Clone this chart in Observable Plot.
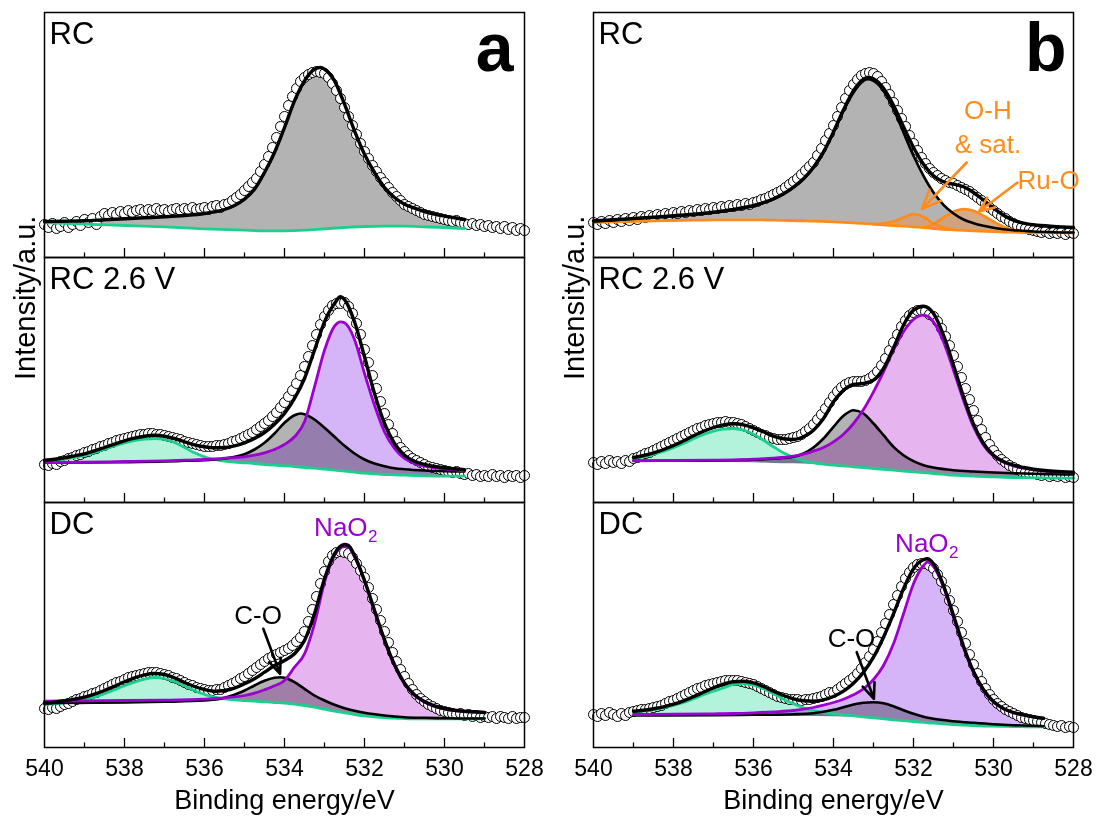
<!DOCTYPE html>
<html><head><meta charset="utf-8">
<script src="https://cdn.jsdelivr.net/npm/d3@7"></script>
<script src="https://cdn.jsdelivr.net/npm/@observablehq/plot@0.6"></script>
<style>
html,body{margin:0;padding:0;background:#fff;}
#wrap{display:flex;width:1098px;height:818px;}
#wrap svg{display:block;}
</style></head><body><div id="wrap"></div>
<script>
// ---------- categories / ticks ----------
const rows = ["RC", "RC 2.6 V", "DC"];
const xTicks = [540, 538, 536, 534, 532, 530, 528];
const majorTicks = [538, 536, 534, 532, 530];
const minorTicks = [539, 537, 535, 533, 531, 529];

// ---------- measured scan energies (eV) for the open circles ----------
const scanEV = [
540.0,539.9,539.8,539.7,539.6,539.5,539.4,539.3,539.2,539.1,
539.0,538.9,538.8,538.7,538.6,538.5,538.4,538.3,538.2,538.1,
538.0,537.9,537.8,537.7,537.6,537.5,537.4,537.3,537.2,537.1,
537.0,536.9,536.8,536.7,536.6,536.5,536.4,536.3,536.2,536.1,
536.0,535.9,535.8,535.7,535.6,535.5,535.4,535.3,535.2,535.1,
535.0,534.9,534.8,534.7,534.6,534.5,534.4,534.3,534.2,534.1,
534.0,533.9,533.8,533.7,533.6,533.5,533.4,533.3,533.2,533.1,
533.0,532.9,532.8,532.7,532.6,532.5,532.4,532.3,532.2,532.1,
532.0,531.9,531.8,531.7,531.6,531.5,531.4,531.3,531.2,531.1,
531.0,530.9,530.8,530.7,530.6,530.5,530.4,530.3,530.2,530.1,
530.0,529.9,529.8,529.7,529.6,529.5,529.4,529.3,529.2,529.1,
529.0,528.9,528.8,528.7,528.6,528.5,528.4,528.3,528.2,528.1,
528.0];

// ---------- panel a : measured intensities (a.u.) ----------
const aRC_dots = [33,30,34,29,31,35,30,33,36,32, 38,35,39,33,41,44,42,45,43,46, 44,47,45,47,48,46,48,47,49,47, 48,46,48,49,47,49,48,50,48,49, 50,48,51,52,50,53,54,57,60,63, 67,71,75,79,86,93,101,110,120,131, 141,152,161,169,176,180,183,185,186,185, 184,180,174,167,159,150,141,132,123,114, 106,99,92,86,80,75,70,65,61,57, 53,51,49,47,45,43,42,41,40,39, 38,37,36,37,35,34,33,34,32,33, 31,32,30,31,29,31,28,30,27,29, 27];
const aMid_dots = [38,37,39,38,41,42,44,45,47,48, 50,51,53,54,56,57,59,60,62,63, 64,65,66,67,68,68,69,69,68,68, 67,66,65,64,63,61,60,59,58,57, 56,56,56,57,57,58,59,61,62,64, 66,68,70,73,76,79,82,86,90,95, 100,106,112,119,127,136,146,157,168,178, 186,192,197,199,199,200,196,189,179,168, 153,140,127,114,101,89,78,69,61,55, 51,47,44,42,40,38,36,35,34,33, 32,31,30,31,29,28,29,27,28,26, 27,26,28,26,27,25,27,26,27,25, 27];
const aDC_dots = [39,38,40,39,41,43,44,46,48,49, 51,52,54,55,57,59,61,63,65,66, 68,70,71,72,73,74,75,75,75,74, 73,72,70,69,67,65,63,62,60,59, 58,57,57,58,58,60,62,64,66,69, 71,74,77,80,83,86,89,91,93,95, 97,99,102,106,110,116,126,138,151,164, 176,186,192,195,196,195,194,190,184,177, 170,160,149,138,127,116,105,95,86,78, 71,64,58,53,49,46,43,41,39,37, 36,35,34,33,34,32,33,31,32,30, 31,30,31,29,31,30,29,31,29,30, 30];

// panel a fitted curves: [binding energy eV, intensity a.u.]
const aRC_bg = [[540,35],[539,33.3],[538,32],[537,30.7],[536,28.7],[535,27.3],[534.5,26.7],[534,26.7],[533.5,27.3],[533,28.7],[532.5,30],[532,31],[531.5,31.3],[531,31.3],[530.5,30.7],[530,30],[529.5,29]];
const aRC_fit = [[540,36],[539.5,36.3],[539,36.7],[538.5,37.7],[538,38.7],[537.5,39.7],[537,40.7],[536.5,42],[536,44],[535.75,45.7],[535.5,48],[535.25,52],[535,58.3],[534.75,68.3],[534.5,85],[534.25,105],[534,130],[533.75,156.7],[533.5,176.7],[533.25,188.3],[533.1,190],[533,188.3],[532.75,176.7],[532.5,153.3],[532.25,126.7],[532,103.3],[531.75,85],[531.5,70],[531.25,60],[531,53.3],[530.75,49.3],[530.5,46],[530.25,43.3],[530,41.3],[529.75,39.7],[529.5,38]];

const aMid_bg = [[540,40],[539,40.4],[538,40.8],[537,41.2],[536.5,41.4],[536,41.4],[535.5,41.1],[535.25,40.3],[535,39.7],[534.5,38],[534,36.7],[533.5,35],[533,33.3],[532.5,31.3],[532,29.3],[531.5,28],[531,27.3],[530.5,26.7],[530,26.3],[529.5,26.3]];
const aMid_green = [[540,41.3],[539.75,42.3],[539.5,43.3],[539.25,45],[539,47],[538.75,50],[538.5,53.3],[538.25,56.7],[538,59.7],[537.75,62],[537.5,63.3],[537.25,64],[537,63],[536.75,60],[536.5,55],[536.25,49.7],[536,45.7],[535.75,43],[535.5,41.3],[535.25,40.3],[535,39.7],[534.75,39],[534.5,38],[534.25,37.3],[534,36.7],[533.75,36],[533.5,35],[533.25,34.3],[533,33.3],[532.75,32.3],[532.5,31.3],[532.25,30.3],[532,29.3],[531.75,28.7],[531.5,28],[531.25,27.7],[531,27.3],[530.75,27],[530.5,26.7],[530,26.3],[529.5,26.3]];
const aMid_gray = [[540,40],[539,40],[538,40.3],[537,41],[536.5,41.7],[536,42.3],[535.5,44],[535,48.3],[534.75,53],[534.5,59.7],[534.25,69],[534,79.7],[533.75,87.3],[533.6,89],[533.5,88.3],[533.25,83],[533,74.7],[532.75,65.7],[532.5,56.7],[532.25,49],[532,43],[531.75,39],[531.5,36.3],[531.25,34.3],[531,33.3],[530.5,32],[530,31.3],[529.5,31]];
const aMid_purple = [[540,40],[539,40.3],[538,41],[537,41.7],[536.5,42.3],[536,43],[535.5,44.3],[535,45.7],[534.75,47.3],[534.5,49.7],[534.25,53],[534,58],[533.75,65.7],[533.5,80.7],[533.25,115.7],[533,152.3],[532.75,176.3],[532.6,180.7],[532.5,179.7],[532.25,163],[532,129],[531.75,97.3],[531.5,70.7],[531.25,54],[531,44],[530.75,39],[530.5,36.3],[530.25,34.7],[530,33.7],[529.75,32.7],[529.5,31.7]];
const aMid_fit = [[540,42.3],[539.75,43.3],[539.5,44.7],[539.25,46.7],[539,48.7],[538.75,51.7],[538.5,55],[538.25,58.3],[538,61.7],[537.75,64.3],[537.5,66.3],[537.25,67.3],[537,66.3],[536.75,64],[536.5,60.7],[536.25,57.7],[536,55.7],[535.75,54.7],[535.5,55],[535.25,56.7],[535,59.7],[534.75,64],[534.5,70],[534.25,78.3],[534,89],[533.75,104],[533.5,124],[533.25,152.3],[533,180.7],[532.75,199],[532.6,205.7],[532.5,203],[532.25,180.7],[532,145.7],[531.75,109],[531.5,79],[531.25,59],[531,47.3],[530.75,41.3],[530.5,38],[530.25,36],[530,34.7],[529.75,33.7],[529.5,32.7]];

const aDC_bg = [[540,42],[539,42.8],[538,43.7],[537,44.7],[536,46],[535.5,47],[535.25,47.7],[535,47],[534.75,46.3],[534.5,45.7],[534.25,45],[534,44.3],[533.75,43.3],[533.5,42],[533.25,40.3],[533,38.3],[532.75,36.3],[532.5,34.7],[532.25,33],[532,31.7],[531.75,30.7],[531.5,30],[531.25,29.3],[531,29],[530.5,28.7],[530,28.7],[529.5,28.7],[529,29]];
const aDC_green = [[540,43],[539.75,43.7],[539.5,44.7],[539.25,46],[539,48],[538.75,50.3],[538.5,53.7],[538.25,57.7],[538,61.7],[537.75,65.3],[537.5,68.3],[537.25,70],[537,69],[536.75,66],[536.5,61.7],[536.25,57],[536,53],[535.75,50.3],[535.5,48.7],[535.25,47.7],[535,47],[534.75,46.3],[534.5,45.7],[534.25,45],[534,44.3],[533.75,43.3],[533.5,42],[533.25,40.3],[533,38.3],[532.75,36.3],[532.5,34.7],[532.25,33],[532,31.7],[531.75,30.7],[531.5,30],[531.25,29.3],[531,29],[530.5,28.7],[530,28.7],[529.5,28.7],[529,29]];
const aDC_gray = [[540,44.3],[539,44.7],[538,45],[537,45.7],[536,47],[535.5,49.7],[535.25,52.7],[535,57],[534.75,62],[534.5,66.7],[534.25,69.7],[534.1,70.3],[534,69.7],[533.75,65.3],[533.5,58.7],[533.25,52],[533,47],[532.75,42.7],[532.5,39.3],[532.25,36.7],[532,34.7],[531.5,32],[531,30.3],[530.5,29.7],[530,29.3],[529.5,29],[529,29]];
const aDC_purple = [[540,46.3],[539,46.7],[538,47],[537,47.3],[536,48.3],[535.5,49.7],[535,52],[534.75,54.3],[534.5,57.7],[534.25,61.7],[534,67],[533.75,80.3],[533.5,93.7],[533.25,123.7],[533,165.3],[532.75,192],[532.5,201.3],[532.4,200.3],[532.25,190.3],[532,167],[531.75,137],[531.5,107],[531.25,82],[531,63.7],[530.75,52],[530.5,45.3],[530.25,41],[530,38.3],[529.75,37],[529.5,36],[529.25,35.3],[529,34.7]];
const aDC_fit = [[540,44.3],[539.75,45.3],[539.5,46.7],[539.25,48.3],[539,50.3],[538.75,53.3],[538.5,57],[538.25,61.3],[538,65.7],[537.75,69.7],[537.5,72.7],[537.25,74],[537,73],[536.75,69.7],[536.5,65],[536.25,61],[536,58],[535.75,56.3],[535.5,57],[535.25,59.3],[535,63.7],[534.75,68.7],[534.5,75.3],[534.25,82],[534,87],[533.75,93.7],[533.5,107],[533.25,133.7],[533,168.7],[532.75,193.7],[532.5,203],[532.4,202],[532.25,192],[532,167],[531.75,137],[531.5,107.7],[531.25,82.7],[531,64.3],[530.75,52.7],[530.5,46],[530.25,41.7],[530,39],[529.75,37.3],[529.5,36.3],[529.25,35.7],[529,35]];

// ---------- panel b ----------
const bRC_dots = [35,33,36,34,37,35,38,36,39,37, 40,38,41,40,42,41,43,42,44,43, 45,44,46,45,47,46,48,47,49,48, 50,49,51,50,52,51,53,52,54,53, 55,56,58,59,61,63,65,67,70,73, 76,79,83,87,91,95,102,109,117,124, 132,141,150,159,167,173,178,182,184,185, 184,181,176,170,163,155,147,139,131,122, 114,107,100,94,89,85,82,79,77,75, 74,72,70,68,66,63,60,57,54,50, 47,44,41,39,36,34,32,30,29,28, 27,26,25,26,24,25,24,25,23,25, 24];
const bMid_dots = [40,38,41,39,42,40,41,39,42,41, 44,45,47,49,50,52,54,56,58,60, 62,64,66,68,70,72,74,75,77,78, 79,80,80,81,80,80,79,78,76,74, 72,70,68,67,65,64,63,63,63,64, 65,66,68,71,74,78,83,88,94,100, 106,111,115,118,120,121,121,121,122,124, 127,131,137,144,152,160,168,176,182,187, 190,192,192,191,188,186,181,174,166,157, 147,136,125,114,103,92,82,73,65,58, 52,47,43,40,37,35,33,31,30,29, 29,28,27,28,26,27,26,27,25,26, 25];
const bDC_dots = [33,31,34,32,35,33,31,34,32,35, 36,37,38,38,39,40,41,42,44,46, 47,49,51,53,55,57,59,60,62,63, 64,65,66,67,67,67,67,66,65,64, 63,61,59,57,55,53,51,50,49,48, 48,48,47,48,48,49,50,51,53,55, 55,58,61,64,67,70,74,79,85,91, 98,106,115,124,133,143,152,161,169,175, 180,183,184,184,182,179,173,166,157,147, 137,126,115,104,93,83,74,66,59,53, 48,44,41,38,36,34,32,30,29,28, 27,26,25,24,23,22,21,22,20,21, 20];

const bRC_bg = [[540,35],[539.5,35.7],[539,36],[538.5,36.7],[538,37],[537.5,37.3],[537,37.7],[536.5,37.7],[536,37.7],[535.5,37.3],[535,37],[534.5,36.3],[534,35.7],[533.5,34.7],[533,33.3],[532.5,32],[532,30.7],[531.5,29],[531,27.7],[530.5,26.7],[530,26],[529.5,25.3],[529,25],[528.5,25],[528,24.7]];
const bRC_OH = [[533,33.3],[532.75,34],[532.5,36],[532.25,40],[532,43.3],[531.75,40.7],[531.5,34],[531.25,30],[531,28]];
const bRC_RuO = [[531.75,29.8],[531.5,33.3],[531.25,40],[531,45.7],[530.75,48.3],[530.5,46.7],[530.25,41.7],[530,35.7],[529.75,30.7],[529.5,27.3],[529.25,25.7],[529,25]];
const bRC_gray = [[540,36],[539.5,37.3],[539,38.7],[538.5,40],[538,41.3],[537.5,43],[537,45],[536.5,47.7],[536,51.7],[535.75,54.7],[535.5,58.3],[535.25,63.3],[535,70],[534.75,78.3],[534.5,90],[534.25,105],[534,125],[533.75,146.7],[533.5,165],[533.25,176.7],[533.15,178.3],[533,176.7],[532.75,166.7],[532.5,148.3],[532.25,125],[532,101.7],[531.75,81.7],[531.5,65],[531.25,52.7],[531,44],[530.75,38],[530.5,34.3],[530.25,31.7],[530,29.7],[529.75,28.3],[529.5,27.3],[529.25,26.7],[529,26],[528.5,25.3],[528,25]];
const bRC_fit = [[540,36.7],[539.5,37.7],[539,39],[538.5,40.3],[538,41.7],[537.5,43.3],[537,45.3],[536.5,48],[536,52],[535.75,55],[535.5,58.7],[535.25,63.7],[535,70.3],[534.75,78.7],[534.5,90.3],[534.25,105.7],[534,125.7],[533.75,147.7],[533.5,166.7],[533.25,178.3],[533.15,180],[533,178.7],[532.75,169.3],[532.5,152.3],[532.25,130.7],[532,110],[531.75,93.3],[531.5,81.7],[531.25,75.7],[531,73.3],[530.75,70.7],[530.5,65],[530.25,57.3],[530,49.3],[529.75,42.3],[529.5,37.3],[529.25,34.3],[529,32.7],[528.5,31],[528,30]];

const bMid_bg = [[539,41.3],[538,41],[537,40.3],[536,39.7],[535.5,39],[535,38.7],[534.5,38],[534,37.3],[533.5,35.7],[533,34],[532.5,32.3],[532,30.7],[531.5,29],[531,27.3],[530.5,26.3],[530,25.7],[529.5,25],[529,24.7],[528.5,24.3],[528,24.3]];
const bMid_green = [[539,44],[538.75,45.7],[538.5,48],[538.25,51],[538,54.7],[537.75,59],[537.5,63.7],[537.25,68],[537,71.3],[536.75,73.3],[536.5,74],[536.25,72.3],[536,68.3],[535.75,62.3],[535.5,55.7],[535.25,49.7],[535,45],[534.75,41.7],[534.5,39.7],[534.25,38.3],[534,37.3],[533.5,35.7],[533,34],[532.5,32.3],[532,30.7],[531.5,29],[531,27.3],[530.5,26.3],[530,25.7],[529.5,25],[529,24.7],[528.5,24.3],[528,24.3]];
const bMid_gray = [[539,41.7],[538,41.7],[537,42],[536,42.7],[535.5,43.7],[535,45.7],[534.75,49],[534.5,55],[534.25,64],[534,75.7],[533.75,86.7],[533.5,92.3],[533.25,89],[533,79],[532.75,67.3],[532.5,55.7],[532.25,47.3],[532,41.3],[531.75,37.3],[531.5,35],[531,32.3],[530.5,31],[530,30],[529.5,29.3],[529,28.7],[528.5,28.3],[528,28]];
const bMid_purple = [[539,41.7],[538,42],[537,42.3],[536.5,42.7],[536,43.3],[535.5,44.3],[535,46.3],[534.75,48.3],[534.5,51.3],[534.25,55],[534,60.7],[533.75,68.3],[533.5,79],[533.25,93],[533,110.7],[532.75,130.7],[532.5,152.3],[532.25,170.7],[532,183],[531.75,187.3],[531.5,180.7],[531.25,160.7],[531,132.3],[530.75,102.3],[530.5,75.7],[530.25,57.3],[530,46.3],[529.75,40.3],[529.5,36.7],[529.25,34.3],[529,32.7],[528.5,30.7],[528,29.7]];
const bMid_fit = [[539,45],[538.75,47],[538.5,49.7],[538.25,53],[538,57],[537.75,61.7],[537.5,66.7],[537.25,71.3],[537,75],[536.75,77.7],[536.5,78.7],[536.25,77.7],[536,74.7],[535.75,70.7],[535.5,66.3],[535.25,63.7],[535,63],[534.75,65.7],[534.5,72.3],[534.25,84],[534,100.7],[533.75,112.3],[533.5,118],[533.25,119],[533,122.3],[532.75,134],[532.5,154.7],[532.25,177.3],[532,192.3],[531.75,196.3],[531.5,189],[531.25,167.3],[531,137.3],[530.75,105.7],[530.5,78.3],[530.25,59],[530,47.3],[529.75,41],[529.5,37.3],[529.25,35],[529,33.3],[528.5,31.3],[528,30.3]];

const bDC_bg = [[539,32.3],[538,32],[537,31.7],[536,31.3],[535,31],[534,30.7],[533.5,30.3],[533,29.7],[532.5,27.7],[532,26],[531.5,24.3],[531,23],[530.5,22],[530,21.3],[529.5,21],[529,20.7],[528.75,20.7]];
const bDC_green = [[539,35.3],[538.75,36.3],[538.5,37.7],[538.25,39.7],[538,42],[537.75,45],[537.5,48.7],[537.25,52.7],[537,56.3],[536.75,59.7],[536.5,63],[536.25,64],[536,62.3],[535.75,58.7],[535.5,53.7],[535.25,48.3],[535,43.7],[534.75,39.7],[534.5,37],[534.25,35],[534,33.7],[533.5,31.7],[533,29.7],[532.5,27.7],[532,26],[531.5,24.3],[531,23],[530.5,22],[530,21.3],[529.5,21],[529,20.7],[528.75,20.7]];
const bDC_gray = [[539,32],[537,32.3],[536,32.7],[535,33.3],[534.5,34.3],[534.25,35.7],[534,37.7],[533.75,40.3],[533.5,43],[533.25,44.7],[533,45.3],[532.75,44.3],[532.5,41.3],[532.25,37.3],[532,33.7],[531.75,30.7],[531.5,28.7],[531,26.3],[530.5,24.7],[530,23.3],[529.5,22.3],[529,21.7],[528.75,21.3]];
const bDC_purple = [[539,33],[538,33.3],[537,33.7],[536.5,34],[536,34.7],[535.5,35.7],[535,37],[534.75,38.3],[534.5,40],[534.25,42.3],[534,45],[533.75,48.3],[533.5,52.7],[533.25,58.7],[533,68],[532.75,82],[532.5,103.7],[532.25,133.7],[532,163.7],[531.75,182],[531.65,185.3],[531.5,181],[531.25,160.3],[531,130.3],[530.75,100.3],[530.5,75.3],[530.25,57],[530,45.3],[529.75,38.7],[529.5,34.7],[529.25,32.3],[529,30.3],[528.75,29]];
const bDC_fit = [[539,36.3],[538.75,37.3],[538.5,38.7],[538.25,40.7],[538,43.3],[537.75,46.7],[537.5,50.7],[537.25,55.3],[537,59.7],[536.75,63.3],[536.5,65.7],[536.25,66.3],[536,64.7],[535.75,61],[535.5,56.3],[535.25,52],[535,48.7],[534.75,46.7],[534.5,46.3],[534.25,47.7],[534,51],[533.75,56.3],[533.5,64.3],[533.25,75.3],[533,90.3],[532.75,110.3],[532.5,133.7],[532.25,158.7],[532,178.7],[531.75,187.7],[531.65,188.7],[531.5,183.7],[531.25,162],[531,132],[530.75,101.3],[530.5,76],[530.25,57.7],[530,46],[529.75,39],[529.5,35],[529.25,32.7],[529,30.7],[528.75,29.3]];

// ---------- annotations (data coordinates) ----------
const aNotes = [{row: "DC", ev: 534.66, h: 123.7, text: "C-O"}];
const aSub = [{row: "DC", ev: 533.26, h: 212, text: "NaO", sub: "2"}];
const aArrows = [{row: "DC", ev1: 534.53, h1: 118.7, ev2: 534.11, h2: 73.7}];
const bNotesBlack = [{row: "DC", ev: 533.55, h: 100.3, text: "C-O"}];
const bNotesOrange = [{row: "RC", ev: 530.14, h: 138.4, text: "O-H"}, {row: "RC", ev: 530.14, h: 105, text: "& sat."}];
const bNotesOrangeStart = [{row: "RC", ev: 529.40, h: 68.4, text: "Ru-O"}];
const bSub = [{row: "DC", ev: 532.46, h: 196, text: "NaO", sub: "2"}];
const bArrowsOrange = [{row: "RC", ev1: 530.67, h1: 95, ev2: 531.79, h2: 48.4}, {row: "RC", ev1: 529.40, h1: 75, ev2: 530.36, h2: 46}];
const bArrowsBlack = [{row: "DC", ev1: 533.42, h1: 95.3, ev2: 532.99, h2: 48.7}];

// ---------- styles ----------
const GREEN = "#1bd08e", GREEN_FILL = "#b3f3dc";
const PURPLE = "#9c00d0", LAV = "#d5b4f8", PINK = "#e6b4ef";
const GRAY = "#b3b3b3", ORANGE = "#ff8c1a", TAN = "#d3a17a";
const FONT = "Liberation Sans, Arial, Helvetica, sans-serif";

const pts = (arr, row) => arr.map(([x, h]) => ({x, h, row}));
const dotsOf = (vals, row) => scanEV.map((x, i) => ({x, h: vals[i], row}));

function buildPanel(cfg) {
  const marks = [];
  for (const s of cfg.subs) for (const f of s.fills)
    marks.push(Plot.areaY(pts(f.data, s.row), {x: "x", y: "h", fy: "row", fill: f.fill, fillOpacity: f.opacity ?? 1, mixBlendMode: f.blend ?? "multiply", curve: "monotone-x"}));
  for (const s of cfg.subs)
    marks.push(Plot.areaY(pts(s.bg, s.row), {x: "x", y: "h", fy: "row", fill: "white", curve: "monotone-x"}));
  for (const s of cfg.subs)
    marks.push(Plot.dot(dotsOf(s.dots, s.row), {x: "x", y: "h", fy: "row", r: 5, fill: "white", stroke: "black", strokeWidth: 1}));
  for (const s of cfg.subs) for (const l of s.lines)
    marks.push(Plot.line(pts(l.data, s.row), {x: "x", y: "h", fy: "row", stroke: l.stroke, strokeWidth: l.w, curve: "monotone-x"}));
  marks.push(Plot.frame({stroke: "black", strokeWidth: 1.5}));
  marks.push(Plot.tickX(majorTicks, {x: d => d, stroke: "black", strokeWidth: 1.3, insetTop: 236}));
  marks.push(Plot.tickX(minorTicks, {x: d => d, stroke: "black", strokeWidth: 1.3, insetTop: 240.5}));
  marks.push(Plot.axisX(xTicks, {anchor: "bottom", tickSize: 0, tickPadding: 12, fontSize: 23, label: null, tickFormat: d => `${d}`}));
  marks.push(Plot.text(rows.map(r => ({row: r, label: r})), {fy: "row", text: "label", frameAnchor: "top-left", textAnchor: "start", lineAnchor: "bottom", dx: 5, dy: 31, fontSize: 31}));
  marks.push(Plot.text([{row: "RC", label: cfg.letter}], {fy: "row", text: "label", frameAnchor: "top-right", textAnchor: "end", lineAnchor: "bottom", dx: cfg.letterDx, dy: 58, fontSize: 68, fontWeight: "bold"}));
  marks.push(Plot.text([{row: "RC 2.6 V", label: "Intensity/a.u."}], {fy: "row", text: "label", frameAnchor: "left", rotate: -90, dx: -19, fontSize: 29}));
  marks.push(Plot.text([{row: "DC", label: "Binding energy/eV"}], {fy: "row", text: "label", frameAnchor: "bottom", lineAnchor: "bottom", dy: 61, fontSize: 27}));
  for (const m of cfg.extra) marks.push(m);
  return Plot.plot({
    width: 549, height: 818,
    marginTop: 12, marginBottom: 71, marginLeft: 44, marginRight: 25,
    style: {fontFamily: FONT, background: "white", color: "black"},
    x: {domain: [540, 528]},
    y: {domain: [0, 245], axis: null},
    fy: {domain: rows, padding: 0, axis: null},
    marks
  });
}

function subMarks(sub, color) {
  return [
    Plot.text(sub, {x: "ev", y: "h", fy: "row", text: "text", fill: color, fontSize: 26, textAnchor: "start", lineAnchor: "bottom"}),
    Plot.text(sub, {x: "ev", y: "h", fy: "row", text: "sub", fill: color, fontSize: 17, textAnchor: "start", lineAnchor: "bottom", dx: 54, dy: 6})
  ];
}
function arrowMarks(data, color) {
  return Plot.arrow(data, {x1: "ev1", y1: "h1", x2: "ev2", y2: "h2", fy: "row", stroke: color, strokeWidth: 2.6, headLength: 12, headAngle: 45});
}

const panelA = buildPanel({
  letter: "a", letterDx: -11,
  subs: [
    {row: "RC", fills: [{data: aRC_fit, fill: GRAY}], bg: aRC_bg, dots: aRC_dots,
     lines: [{data: aRC_bg, stroke: GREEN, w: 2.8}, {data: aRC_fit, stroke: "black", w: 3.4}]},
    {row: "RC 2.6 V", fills: [{data: aMid_green, fill: GREEN_FILL}, {data: aMid_gray, fill: GRAY}, {data: aMid_purple, fill: LAV}], bg: aMid_bg, dots: aMid_dots,
     lines: [{data: aMid_green, stroke: GREEN, w: 2.8}, {data: aMid_gray, stroke: "black", w: 2.6}, {data: aMid_purple, stroke: PURPLE, w: 2.8}, {data: aMid_fit, stroke: "black", w: 3.4}]},
    {row: "DC", fills: [{data: aDC_green, fill: GREEN_FILL}, {data: aDC_gray, fill: GRAY}, {data: aDC_purple, fill: PINK}], bg: aDC_bg, dots: aDC_dots,
     lines: [{data: aDC_green, stroke: GREEN, w: 2.8}, {data: aDC_gray, stroke: "black", w: 2.6}, {data: aDC_purple, stroke: PURPLE, w: 2.8}, {data: aDC_fit, stroke: "black", w: 3.4}]}
  ],
  extra: [
    Plot.text(aNotes, {x: "ev", y: "h", fy: "row", text: "text", fill: "black", fontSize: 26, lineAnchor: "bottom"}),
    ...subMarks(aSub, PURPLE),
    arrowMarks(aArrows, "black")
  ]
});

const panelB = buildPanel({
  letter: "b", letterDx: -7,
  subs: [
    {row: "RC", fills: [{data: bRC_gray, fill: GRAY}, {data: bRC_OH, fill: TAN, opacity: 0.9, blend: "normal"}, {data: bRC_RuO, fill: TAN, opacity: 0.9, blend: "normal"}], bg: bRC_bg, dots: bRC_dots,
     lines: [{data: bRC_bg, stroke: ORANGE, w: 2.8}, {data: bRC_OH, stroke: ORANGE, w: 2.8}, {data: bRC_RuO, stroke: ORANGE, w: 2.8}, {data: bRC_gray, stroke: "black", w: 2.6}, {data: bRC_fit, stroke: "black", w: 3.4}]},
    {row: "RC 2.6 V", fills: [{data: bMid_green, fill: GREEN_FILL}, {data: bMid_gray, fill: GRAY}, {data: bMid_purple, fill: PINK}], bg: bMid_bg, dots: bMid_dots,
     lines: [{data: bMid_green, stroke: GREEN, w: 2.8}, {data: bMid_gray, stroke: "black", w: 2.6}, {data: bMid_purple, stroke: PURPLE, w: 2.8}, {data: bMid_fit, stroke: "black", w: 3.4}]},
    {row: "DC", fills: [{data: bDC_green, fill: GREEN_FILL}, {data: bDC_gray, fill: GRAY}, {data: bDC_purple, fill: LAV}], bg: bDC_bg, dots: bDC_dots,
     lines: [{data: bDC_green, stroke: GREEN, w: 2.8}, {data: bDC_gray, stroke: "black", w: 2.6}, {data: bDC_purple, stroke: PURPLE, w: 2.8}, {data: bDC_fit, stroke: "black", w: 3.4}]}
  ],
  extra: [
    Plot.text(bNotesBlack, {x: "ev", y: "h", fy: "row", text: "text", fill: "black", fontSize: 26, lineAnchor: "bottom"}),
    Plot.text(bNotesOrange, {x: "ev", y: "h", fy: "row", text: "text", fill: ORANGE, fontSize: 26, lineAnchor: "bottom"}),
    Plot.text(bNotesOrangeStart, {x: "ev", y: "h", fy: "row", text: "text", fill: ORANGE, fontSize: 26, textAnchor: "start", lineAnchor: "bottom"}),
    ...subMarks(bSub, PURPLE),
    arrowMarks(bArrowsOrange, ORANGE),
    arrowMarks(bArrowsBlack, "black")
  ]
});

const wrap = document.getElementById("wrap");
wrap.appendChild(panelA);
wrap.appendChild(panelB);
</script>
</body></html>
